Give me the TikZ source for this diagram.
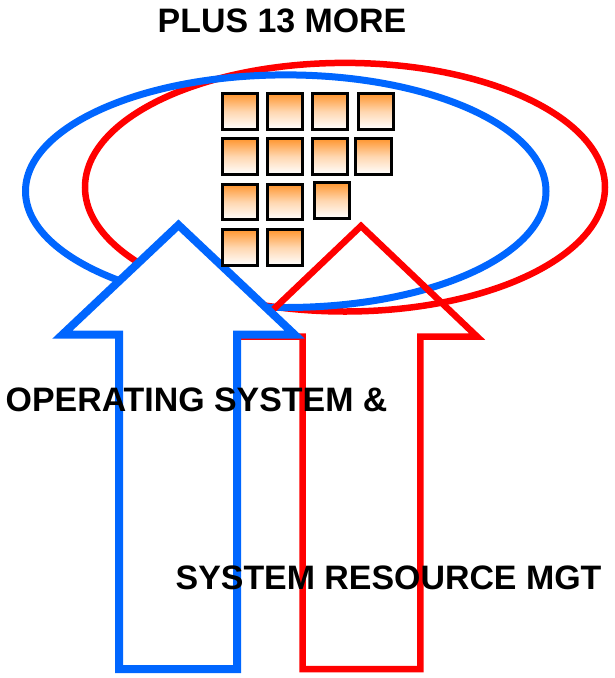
\documentclass[tikz,border=0pt]{standalone}
\usepackage{fontspec}
\setmainfont{Liberation Sans}
\definecolor{myblue}{RGB}{0,102,255}
\definecolor{myred}{RGB}{255,0,0}
\definecolor{myorange}{RGB}{255,150,48}
\begin{document}
\begin{tikzpicture}[x=1pt,y=-1pt,
  sq/.style={draw=black, line width=3pt, minimum size=35.5pt, inner sep=0pt,
    top color=myorange, bottom color=white, middle color=myorange!38!white},
  lbl/.style={anchor=base west, inner sep=0pt, font=\fontsize{33.9}{36}\selectfont\bfseries},
  blueline/.style={draw=myblue, line width=7pt},
  redline/.style={draw=myred, line width=6.5pt}]
\useasboundingbox (0,0) rectangle (614,678);
% ellipses
\draw[redline] (345,187.2) ellipse [x radius=260, y radius=124.3];
\draw[blueline] (285.75,191.2) ellipse [x radius=260.25, y radius=116.3];
% red arrow (outline only)
\draw[redline] (361,226) -- (477,336.5) -- (420.3,336.5) -- (420.3,669) -- (302.7,669)
  -- (302.7,336.5) -- (245,336.5) -- cycle;
% blue arrow (white fill)
\filldraw[fill=white, draw=myblue, line width=8pt] (178.5,225) -- (294.5,334.5) -- (237.2,334.5)
  -- (237.2,669) -- (119.2,669) -- (119.2,334.5) -- (62.5,334.5) -- cycle;
% squares
\node[sq] (s11) at (240,111.5) {};
\node[sq] (s12) at (285,111.5) {};
\node[sq] (s13) at (330.2,111.5) {};
\node[sq] (s14) at (376,111.5) {};
\node[sq] (s21) at (240,156.5) {};
\node[sq] (s22) at (285,156.5) {};
\node[sq] (s23) at (330.2,156.5) {};
\node[sq] (s24) at (373.7,156.5) {};
\node[sq] (s31) at (240,202.2) {};
\node[sq] (s32) at (285,202.2) {};
\node[sq] (s33) at (332.2,200.5) {};
\node[sq] (s41) at (240,247.5) {};
\node[sq] (s42) at (285,247.5) {};
% labels
\node[lbl] (plus) at (157.5,32.5) {PLUS 13 MORE};
\node[lbl] (os) at (5.5,411.7) {OPERATING SYSTEM \&};
\node[lbl] (srm) at (175.5,589.3) {SYSTEM RESOURCE MGT};
\end{tikzpicture}
\end{document}
